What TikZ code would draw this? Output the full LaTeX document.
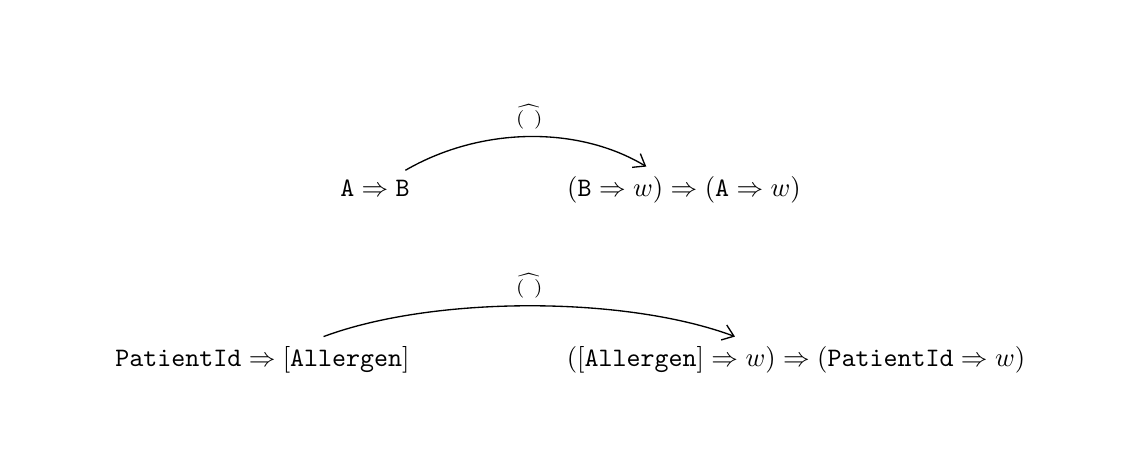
\documentclass[tikz,border=0pt]{standalone}
\usepackage{exscale}
\usetikzlibrary{arrows.meta}
\begin{document}
\begin{tikzpicture}[x=0.375pt,y=-0.375pt,
  term/.style={anchor=base},
  arr/.style={-{Straight Barb[length=4pt,width=6pt]},line width=0.5pt},
  lbl/.style={midway,above,inner sep=2.6pt}]
\useasboundingbox (0,0) rectangle (1135,456);
\node[term] (a1) at (375,196) {$\mathtt{A}\Rightarrow\mathtt{B}$};
\node[term] (b1) at (684,196) {$(\mathtt{B}\Rightarrow w)\Rightarrow(\mathtt{A}\Rightarrow w)$};
\node[term] (a2) at (262.5,366) {$\mathtt{PatientId}\Rightarrow[\mathtt{Allergen}]$};
\node[term] (b2) at (796,366) {$([\mathtt{Allergen}]\Rightarrow w)\Rightarrow(\mathtt{PatientId}\Rightarrow w)$};
\draw[arr] (a1) .. controls (482,126) and (579,126) .. node[lbl] (l1) {$\scriptstyle\widehat{(\mkern8mu)}$} (b1);
\draw[arr] (a2) .. controls (433.5,295.6) and (625,295.6) .. node[lbl] (l2) {$\scriptstyle\widehat{(\mkern8mu)}$} (b2);
\end{tikzpicture}
\end{document}
